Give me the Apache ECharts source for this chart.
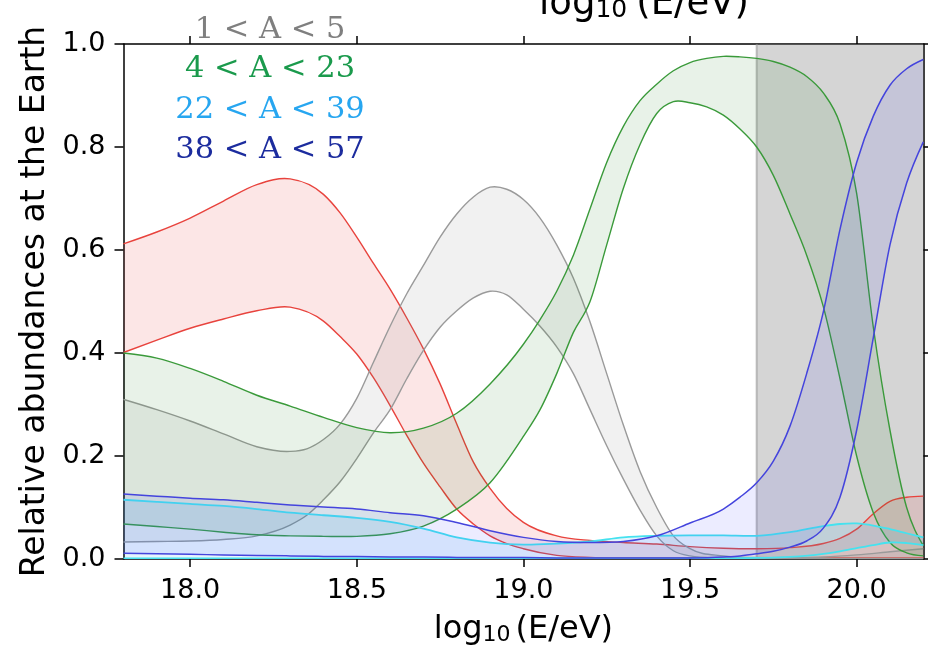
<!DOCTYPE html>
<html><head><meta charset="utf-8">
<script src="https://cdn.jsdelivr.net/npm/echarts@6/dist/echarts.min.js"></script>
<style>html,body{margin:0;padding:0;background:#fff}#c{width:928px;height:651px}</style>
</head><body><div id="c"></div>
<script>
// ---------- data ----------
const energyTicks = [18.0, 18.5, 19.0, 19.5, 20.0];
const shadedRange = [19.7, 20.2];
const legendLabels = ['1 < A < 5', '4 < A < 23', '22 < A < 39', '38 < A < 57'];

const redX = [17.8, 17.9, 18.0, 18.1, 18.2, 18.3, 18.4, 18.45, 18.5, 18.55, 18.6, 18.65, 18.7, 18.75, 18.8, 18.85, 18.9, 18.95, 19.0, 19.1, 19.2, 19.3, 19.4, 19.5, 19.6, 19.7, 19.8, 19.9, 19.95, 20.0, 20.05, 20.1, 20.15, 20.2];
const redUpper = [0.612, 0.635, 0.662, 0.695, 0.727, 0.738, 0.708, 0.672, 0.625, 0.574, 0.524, 0.468, 0.408, 0.340, 0.262, 0.188, 0.137, 0.098, 0.071, 0.045, 0.036, 0.032, 0.029, 0.024, 0.021, 0.020, 0.022, 0.030, 0.040, 0.058, 0.088, 0.112, 0.120, 0.122];
const redLower = [0.401, 0.425, 0.448, 0.466, 0.482, 0.489, 0.462, 0.432, 0.398, 0.352, 0.298, 0.240, 0.186, 0.140, 0.097, 0.068, 0.045, 0.030, 0.020, 0.007, 0.003, 0.002, 0.002, 0.002, 0.002, 0.002, 0.002, 0.002, 0.002, 0.002, 0.002, 0.002, 0.002, 0.002];

const grayX = [17.8, 17.9, 18.0, 18.1, 18.2, 18.3, 18.35, 18.4, 18.45, 18.5, 18.55, 18.6, 18.65, 18.7, 18.75, 18.8, 18.85, 18.9, 18.95, 19.0, 19.05, 19.1, 19.15, 19.2, 19.25, 19.3, 19.35, 19.4, 19.45, 19.5, 19.6, 19.7, 19.8, 19.9, 20.0, 20.1, 20.2];
const grayUpper = [0.310, 0.290, 0.268, 0.243, 0.218, 0.209, 0.214, 0.232, 0.262, 0.312, 0.382, 0.452, 0.515, 0.570, 0.625, 0.670, 0.703, 0.722, 0.718, 0.698, 0.662, 0.610, 0.545, 0.460, 0.360, 0.260, 0.170, 0.100, 0.045, 0.020, 0.006, 0.003, 0.003, 0.004, 0.008, 0.014, 0.020];
const grayLower = [0.033, 0.034, 0.035, 0.038, 0.045, 0.066, 0.085, 0.115, 0.150, 0.195, 0.245, 0.290, 0.350, 0.405, 0.450, 0.482, 0.507, 0.520, 0.513, 0.485, 0.452, 0.412, 0.360, 0.290, 0.220, 0.155, 0.095, 0.045, 0.016, 0.006, 0.002, 0.001, 0.001, 0.001, 0.001, 0.001, 0.001];

const greenX = [17.8, 17.9, 18.0, 18.1, 18.2, 18.3, 18.4, 18.5, 18.6, 18.7, 18.8, 18.9, 19.0, 19.05, 19.1, 19.15, 19.2, 19.25, 19.3, 19.35, 19.4, 19.45, 19.5, 19.55, 19.6, 19.65, 19.7, 19.75, 19.8, 19.85, 19.9, 19.95, 20.0, 20.05, 20.1, 20.15, 20.2];
const greenUpper = [0.400, 0.390, 0.370, 0.345, 0.318, 0.297, 0.275, 0.255, 0.245, 0.254, 0.283, 0.340, 0.417, 0.465, 0.520, 0.590, 0.680, 0.770, 0.840, 0.890, 0.922, 0.948, 0.964, 0.972, 0.976, 0.975, 0.972, 0.966, 0.955, 0.937, 0.905, 0.845, 0.710, 0.450, 0.250, 0.100, 0.026];
const greenLower = [0.068, 0.063, 0.058, 0.052, 0.047, 0.045, 0.044, 0.044, 0.049, 0.064, 0.097, 0.148, 0.238, 0.290, 0.360, 0.440, 0.500, 0.610, 0.720, 0.805, 0.865, 0.888, 0.886, 0.878, 0.862, 0.835, 0.800, 0.745, 0.670, 0.590, 0.490, 0.350, 0.200, 0.090, 0.032, 0.012, 0.006];

const cyanX = [17.8, 17.9, 18.0, 18.1, 18.2, 18.3, 18.4, 18.5, 18.6, 18.7, 18.8, 18.9, 19.0, 19.1, 19.2, 19.3, 19.4, 19.5, 19.6, 19.7, 19.8, 19.9, 19.95, 20.0, 20.05, 20.1, 20.15, 20.2];
const cyanUpper = [0.115, 0.111, 0.107, 0.103, 0.097, 0.090, 0.085, 0.080, 0.072, 0.059, 0.042, 0.032, 0.028, 0.030, 0.034, 0.042, 0.045, 0.046, 0.046, 0.045, 0.052, 0.064, 0.068, 0.069, 0.065, 0.058, 0.050, 0.042];
const cyanLower = [0.001, 0.001, 0.001, 0.001, 0.001, 0.001, 0.001, 0.001, 0.001, 0.001, 0.001, 0.001, 0.001, 0.001, 0.001, 0.001, 0.001, 0.001, 0.001, 0.002, 0.004, 0.010, 0.015, 0.021, 0.027, 0.032, 0.031, 0.027];

const blueX = [17.8, 17.9, 18.0, 18.1, 18.2, 18.3, 18.4, 18.5, 18.6, 18.7, 18.8, 18.9, 19.0, 19.1, 19.2, 19.3, 19.4, 19.5, 19.6, 19.65, 19.7, 19.75, 19.8, 19.85, 19.9, 19.95, 20.0, 20.05, 20.1, 20.15, 20.2];
const blueUpper = [0.126, 0.122, 0.118, 0.115, 0.110, 0.105, 0.101, 0.097, 0.090, 0.084, 0.071, 0.055, 0.042, 0.034, 0.032, 0.034, 0.045, 0.070, 0.097, 0.120, 0.148, 0.190, 0.258, 0.360, 0.480, 0.640, 0.770, 0.860, 0.920, 0.952, 0.970];
const blueLower = [0.011, 0.010, 0.009, 0.008, 0.007, 0.006, 0.005, 0.005, 0.004, 0.004, 0.003, 0.003, 0.003, 0.002, 0.002, 0.002, 0.002, 0.002, 0.004, 0.006, 0.010, 0.015, 0.023, 0.035, 0.060, 0.120, 0.250, 0.430, 0.610, 0.730, 0.810];

// ---------- rendering helpers (smooth curve through the projected points) ----------
function splineSegs(pts) {
  const n = pts.length, m = new Array(n), h = [], s = [];
  for (let i = 0; i < n - 1; i++) { h[i] = pts[i + 1][0] - pts[i][0]; s[i] = (pts[i + 1][1] - pts[i][1]) / h[i]; }
  for (let i = 1; i < n - 1; i++) {
    const s0 = s[i - 1], s1 = s[i];
    let p = (s0 * h[i] + s1 * h[i - 1]) / (h[i - 1] + h[i]);
    if (s0 * s1 > 0) {
      const lim = 3 * Math.min(Math.abs(s0), Math.abs(s1));
      if (Math.abs(p) > lim) p = Math.sign(p) * lim;
    }
    m[i] = p;
  }
  m[0] = (3 * s[0] - m[1]) / 2;
  m[n - 1] = (3 * s[n - 2] - m[n - 2]) / 2;
  const segs = [];
  for (let i = 0; i < n - 1; i++) {
    const d = h[i] / 3;
    segs.push([pts[i], [pts[i][0] + d, pts[i][1] + m[i] * d], [pts[i + 1][0] - d, pts[i + 1][1] - m[i + 1] * d], pts[i + 1]]);
  }
  return segs;
}
const P = p => p[0].toFixed(2) + ',' + p[1].toFixed(2);
function linePath(segs) {
  let d = 'M' + P(segs[0][0]);
  segs.forEach(sg => { d += ' C' + P(sg[1]) + ' ' + P(sg[2]) + ' ' + P(sg[3]); });
  return d;
}
function fillPath(up, dn) {
  let d = linePath(up);
  d += ' L' + P(dn[dn.length - 1][3]);
  for (let i = dn.length - 1; i >= 0; i--) d += ' C' + P(dn[i][2]) + ' ' + P(dn[i][1]) + ' ' + P(dn[i][0]);
  return d + ' Z';
}

function band(name, xs, lo, hi, stroke, fill, lw, z) {
  return {
    type: 'custom', name: name, coordinateSystem: 'cartesian2d', clip: true, silent: true, z: z,
    data: xs.map((x, i) => [x, lo[i], hi[i]]),
    encode: { x: 0, y: [1, 2] },
    renderItem: function (params, api) {
      if (params.dataIndex !== 0) return null;
      const up = splineSegs(xs.map((x, i) => api.coord([x, hi[i]])));
      const dn = splineSegs(xs.map((x, i) => api.coord([x, lo[i]])));
      return {
        type: 'group', children: [
          { type: 'path', shape: { pathData: fillPath(up, dn) }, style: { fill: fill, stroke: null } },
          { type: 'path', shape: { pathData: linePath(up) }, style: { fill: null, stroke: stroke, lineWidth: lw } },
          { type: 'path', shape: { pathData: linePath(dn) }, style: { fill: null, stroke: stroke, lineWidth: lw } }
        ]
      };
    }
  };
}

const shadeSeries = {
  type: 'custom', name: 'shaded', coordinateSystem: 'cartesian2d', clip: true, silent: true, z: 1,
  data: [[shadedRange[0], 0], [shadedRange[1], 1]],
  renderItem: function (params, api) {
    if (params.dataIndex !== 0) return null;
    const a = api.coord([shadedRange[0], 1]), b = api.coord([shadedRange[1], 0]);
    return { type: 'group', children: [
      { type: 'rect', shape: { x: a[0], y: a[1], width: b[0] - a[0], height: b[1] - a[1] }, style: { fill: 'rgba(128,128,128,0.33)' } },
      { type: 'line', shape: { x1: a[0], y1: a[1], x2: a[0], y2: b[1] }, style: { stroke: 'rgba(150,150,150,0.6)', lineWidth: 2 } }
    ] };
  }
};

const FONT = 'DejaVu Sans';
const nameRich = {
  a: { fontSize: 32, fontFamily: FONT, color: '#000', lineHeight: 40, verticalAlign: 'bottom' },
  s: { fontSize: 22, fontFamily: FONT, color: '#000', lineHeight: 18, verticalAlign: 'bottom', padding: [0, 5, 0, 0] }
};
const topRich = {
  a: { fontSize: 37, fontFamily: FONT, color: '#000', lineHeight: 44, verticalAlign: 'bottom' },
  s: { fontSize: 25, fontFamily: FONT, color: '#000', lineHeight: 31, verticalAlign: 'bottom', padding: [0, 9, 0, 0] }
};
const axisLineStyle = { color: '#000', width: 1.5 };

const legendColors = ['#7f7f7f', '#1a9a4c', '#27a6f0', '#1c2c9e'];
const legendY = [29.8, 68.8, 110.5, 150.5];

const option = {
  animation: false,
  backgroundColor: '#fff',
  grid: { left: 123.5, right: 4.7, top: 44, bottom: 87.5 },
  xAxis: [
    {
      type: 'value', min: 17.8, max: 20.2, position: 'bottom',
      splitLine: { show: false },
      axisLine: { onZero: false, lineStyle: axisLineStyle },
      axisTick: { customValues: energyTicks, length: 8, lineStyle: axisLineStyle },
      axisLabel: { customValues: energyTicks, formatter: v => v.toFixed(1), fontSize: 27, fontFamily: FONT, color: '#000', margin: 18 },
      name: '{a|log}{s|10}{a|(E/eV)}', nameLocation: 'middle', nameGap: 47,
      nameTextStyle: { rich: nameRich }
    },
    {
      type: 'value', min: 17.8, max: 20.2, position: 'top',
      splitLine: { show: false },
      axisLine: { onZero: false, lineStyle: axisLineStyle },
      axisTick: { customValues: energyTicks, length: 8, lineStyle: axisLineStyle },
      axisLabel: { show: false }
    }
  ],
  yAxis: [
    {
      type: 'value', min: 0, max: 1, interval: 0.2, position: 'left',
      splitLine: { show: false },
      axisLine: { show: true, onZero: false, lineStyle: axisLineStyle },
      axisTick: { show: true, length: 9, lineStyle: axisLineStyle },
      axisLabel: { formatter: v => v.toFixed(1), fontSize: 27, fontFamily: FONT, color: '#000', margin: 18 },
      name: 'Relative abundances at the Earth', nameLocation: 'middle', nameRotate: 90, nameGap: 72,
      nameTextStyle: { fontSize: 33, fontFamily: FONT, color: '#000' }
    },
    {
      type: 'value', min: 0, max: 1, interval: 0.2, position: 'right',
      splitLine: { show: false },
      axisLine: { show: true, onZero: false, lineStyle: axisLineStyle },
      axisTick: { show: true, length: 8, lineStyle: axisLineStyle },
      axisLabel: { show: false }
    }
  ],
  graphic: [
    { type: 'text', x: 539, y: -21, silent: true,
      style: { text: '{a|log}{s|10}{a|(E/eV)}', rich: topRich, align: 'left', verticalAlign: 'top' } }
  ].concat(legendLabels.map((t, i) => ({
    type: 'text', x: 270, y: legendY[i], silent: true,
    style: { text: t, fill: legendColors[i], fontFamily: 'DejaVu Serif', fontSize: 30.5, align: 'center', verticalAlign: 'middle' }
  }))),
  series: [
    shadeSeries,
    band('red', redX, redLower, redUpper, '#e8433d', 'rgba(235,60,60,0.13)', 1.4, 2),
    band('gray', grayX, grayLower, grayUpper, '#9a9a9a', 'rgba(128,128,128,0.11)', 1.4, 3),
    band('green', greenX, greenLower, greenUpper, '#3a9a3a', 'rgba(30,130,30,0.10)', 1.4, 4),
    band('cyan', cyanX, cyanLower, cyanUpper, '#45e2ef', 'rgba(40,170,240,0.12)', 1.8, 5),
    band('blue', blueX, blueLower, blueUpper, '#4444dd', 'rgba(40,40,255,0.09)', 1.5, 6)
  ]
};
const chart = echarts.init(document.getElementById('c'));
chart.setOption(option);
</script>
</body></html>
